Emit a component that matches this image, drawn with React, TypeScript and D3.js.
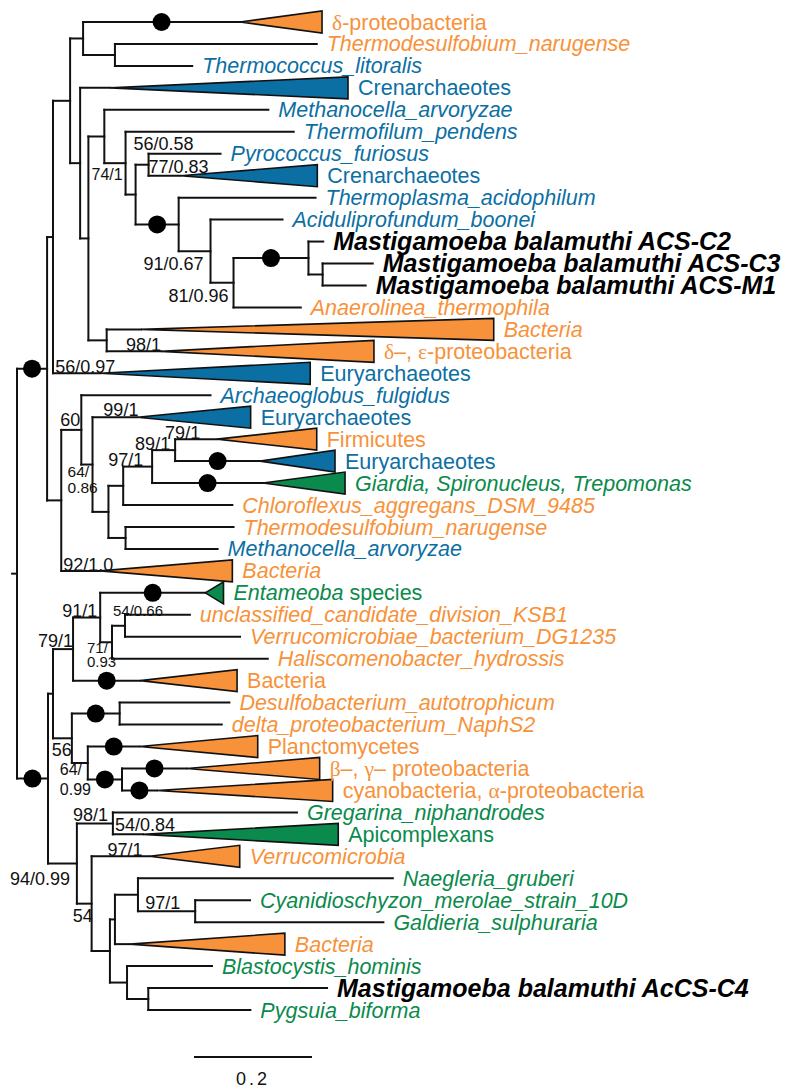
import React, { useMemo } from "react";
import * as d3 from "d3";

// [id, parentId, branchLength (subst./site), collapsed-clade depth (0 = single leaf)]
type Row = [string, string, number, number];
const TREE: Row[] = [
  ["root", "", 0, 0],
  ["A", "root", 0.051, 0],
  ["A1", "A", 0.010, 0],
  ["H", "A1", 0.029, 0],
  ["I", "H", 0.022, 0],
  ["dProteo", "I", 0.266, 0.139],
  ["K", "I", 0.054, 0],
  ["Tnar1", "K", 0.342, 0],
  ["Tlit", "K", 0.131, 0],
  ["J", "H", 0.017, 0],
  ["Cren1", "J", 0.051, 0.403],
  ["L", "J", 0.014, 0],
  ["N", "L", 0.027, 0],
  ["Marv1", "N", 0.278, 0],
  ["O", "N", 0.036, 0],
  ["Tpen", "O", 0.285, 0],
  ["P", "O", 0.017, 0],
  ["Q", "P", 0.022, 0],
  ["Pfur", "Q", 0.122, 0],
  ["Cren2", "Q", 0.054, 0.232],
  ["R", "P", 0.073, 0],
  ["Tacid", "R", 0.232, 0],
  ["S", "R", 0.054, 0],
  ["Aboo", "S", 0.122, 0],
  ["T", "S", 0.039, 0],
  ["U", "T", 0.127, 0],
  ["C2", "U", 0.025, 0],
  ["V", "U", 0.024, 0],
  ["C3", "V", 0.085, 0],
  ["M1", "V", 0.073, 0],
  ["Athe", "T", 0.114, 0],
  ["M", "L", 0.031, 0],
  ["Bac1", "M", 0.058, 0.598],
  ["deProteo", "M", 0.092, 0.361],
  ["Eury1", "A1", 0.080, 0.356],
  ["A2", "A", 0.024, 0],
  ["N60", "A2", 0.034, 0],
  ["Aful", "N60", 0.219, 0],
  ["B", "N60", 0.019, 0],
  ["Eury2", "B", 0.076, 0.192],
  ["C", "B", 0.027, 0],
  ["D", "C", 0.025, 0],
  ["F", "D", 0.049, 0],
  ["G", "F", 0.039, 0],
  ["Firm", "G", 0.071, 0.169],
  ["Eury3", "G", 0.144, 0.127],
  ["Giar", "F", 0.188, 0.139],
  ["Cagg", "D", 0.185, 0],
  ["E", "C", 0.029, 0],
  ["Tnar2", "E", 0.183, 0],
  ["Marv2", "E", 0.156, 0],
  ["Bac2", "A2", 0.066, 0.224],
  ["Z", "root", 0.0525, 0],
  ["Z1", "Z", 0.0085, 0],
  ["W", "Z1", 0.034, 0],
  ["W1", "W", 0.046, 0],
  ["Ent", "W1", 0.178, 0.031],
  ["W2", "W1", 0.020, 0],
  ["W3", "W2", 0.022, 0],
  ["KSB1", "W3", 0.110, 0],
  ["Verr1", "W3", 0.195, 0],
  ["Hhyd", "W2", 0.264, 0],
  ["Bac3", "W", 0.114, 0.164],
  ["X", "Z1", 0.032, 0],
  ["X1", "X", 0.081, 0],
  ["Daut", "X1", 0.186, 0],
  ["Dnap", "X1", 0.173, 0],
  ["X2", "X", 0.027, 0],
  ["Planc", "X2", 0.088, 0.200],
  ["X3", "X2", 0.058, 0],
  ["bgProteo", "X3", 0.110, 0.225],
  ["Cyano", "X3", 0.059, 0.298],
  ["Z2", "Z", 0.049, 0],
  ["Y1", "Z2", 0.061, 0],
  ["Gnip", "Y1", 0.312, 0],
  ["Apic", "Y1", 0.051, 0.331],
  ["Y2", "Z2", 0.025, 0],
  ["Verr2", "Y2", 0.098, 0.153],
  ["Y3", "Y2", 0.031, 0],
  ["Y4", "Y3", 0.0085, 0],
  ["Y6", "Y4", 0.039, 0],
  ["Ngru", "Y6", 0.432, 0],
  ["Y7", "Y6", 0.097, 0],
  ["Cmer", "Y7", 0.093, 0],
  ["Gsul", "Y7", 0.319, 0],
  ["Bac4", "Y4", 0.025, 0.263],
  ["Y5", "Y3", 0.029, 0],
  ["Bhom", "Y5", 0.144, 0],
  ["Y8", "Y5", 0.036, 0],
  ["C4", "Y8", 0.303, 0],
  ["Pbif", "Y8", 0.173, 0],
];

// [leafId, label, group, style]  ({g:..} greek serif, {i:..} italic)
const LEAF_LABELS: [string, string, string, string][] = [
  ["dProteo", "{g:δ}-proteobacteria", "bac", "n"],
  ["Tnar1", "Thermodesulfobium_narugense", "bac", "i"],
  ["Tlit", "Thermococcus_litoralis", "arc", "i"],
  ["Cren1", "Crenarchaeotes", "arc", "n"],
  ["Marv1", "Methanocella_arvoryzae", "arc", "i"],
  ["Tpen", "Thermofilum_pendens", "arc", "i"],
  ["Pfur", "Pyrococcus_furiosus", "arc", "i"],
  ["Cren2", "Crenarchaeotes", "arc", "n"],
  ["Tacid", "Thermoplasma_acidophilum", "arc", "i"],
  ["Aboo", "Aciduliprofundum_boonei", "arc", "i"],
  ["C2", "Mastigamoeba balamuthi ACS-C2", "mast", "b"],
  ["C3", "Mastigamoeba balamuthi ACS-C3", "mast", "b"],
  ["M1", "Mastigamoeba balamuthi ACS-M1", "mast", "b"],
  ["Athe", "Anaerolinea_thermophila", "bac", "i"],
  ["Bac1", "Bacteria", "bac", "i"],
  ["deProteo", "{g:δ}–, {g:ε}-proteobacteria", "bac", "n"],
  ["Eury1", "Euryarchaeotes", "arc", "n"],
  ["Aful", "Archaeoglobus_fulgidus", "arc", "i"],
  ["Eury2", "Euryarchaeotes", "arc", "n"],
  ["Firm", "Firmicutes", "bac", "n"],
  ["Eury3", "Euryarchaeotes", "arc", "n"],
  ["Giar", "Giardia, Spironucleus, Trepomonas", "euk", "i"],
  ["Cagg", "Chloroflexus_aggregans_DSM_9485", "bac", "i"],
  ["Tnar2", "Thermodesulfobium_narugense", "bac", "i"],
  ["Marv2", "Methanocella_arvoryzae", "arc", "i"],
  ["Bac2", "Bacteria", "bac", "i"],
  ["Ent", "{i:Entameoba} species", "euk", "n"],
  ["KSB1", "unclassified_candidate_division_KSB1", "bac", "i"],
  ["Verr1", "Verrucomicrobiae_bacterium_DG1235", "bac", "i"],
  ["Hhyd", "Haliscomenobacter_hydrossis", "bac", "i"],
  ["Bac3", "Bacteria", "bac", "n"],
  ["Daut", "Desulfobacterium_autotrophicum", "bac", "i"],
  ["Dnap", "delta_proteobacterium_NaphS2", "bac", "i"],
  ["Planc", "Planctomycetes", "bac", "n"],
  ["bgProteo", "{g:β}–, {g:γ}– proteobacteria", "bac", "n"],
  ["Cyano", "cyanobacteria, {g:α}-proteobacteria", "bac", "n"],
  ["Gnip", "Gregarina_niphandrodes", "euk", "i"],
  ["Apic", "Apicomplexans", "euk", "n"],
  ["Verr2", "Verrucomicrobia", "bac", "i"],
  ["Ngru", "Naegleria_gruberi", "euk", "i"],
  ["Cmer", "Cyanidioschyzon_merolae_strain_10D", "euk", "i"],
  ["Gsul", "Galdieria_sulphuraria", "euk", "i"],
  ["Bac4", "Bacteria", "bac", "i"],
  ["Bhom", "Blastocystis_hominis", "euk", "i"],
  ["C4", "Mastigamoeba balamuthi AcCS-C4", "mast", "b"],
  ["Pbif", "Pygsuia_biforma", "euk", "i"],
];

// nodes with maximal support (drawn as black dots on their branch)
const FULL_SUPPORT: string[] = [
  "A", "Z", "dProteo", "R", "U", "Eury3", "Giar", "Ent", "Bac3", "X1", "Planc", "X3", "bgProteo", "Cyano",
];

// [nodeId, bootstrap/posterior label]
const SUPPORT: [string, string][] = [
  ["O", "74/1"], ["Q", "56/0.58"], ["Cren2", "77/0.83"], ["S", "91/0.67"], ["T", "81/0.96"],
  ["deProteo", "98/1"], ["Eury1", "56/0.97"], ["N60", "60"], ["Eury2", "99/1"], ["B", "64/\n0.86"],
  ["D", "97/1"], ["F", "89/1"], ["G", "79/1"], ["Bac2", "92/1.0"], ["W1", "91/1"], ["W3", "54/0.66"],
  ["W2", "71/\n0.93"], ["W", "79/1"], ["X", "56"], ["X2", "64/\n0.99"], ["Y1", "98/1"],
  ["Apic", "54/0.84"], ["Verr2", "97/1"], ["Z2", "94/0.99"], ["Y2", "54"], ["Y7", "97/1"],
];

const SCALE_BAR_LENGTH = 0.2;
const SCALE_BAR_LABEL = "0.2";

// ---- layout (pixels) ----
const W = 800;
const H = 1089;
const FONT = "'Liberation Sans', Arial, Helvetica, sans-serif";
const COLORS: Record<string, string> = {
  bac: "#F7923A",
  arc: "#0C6FA3",
  euk: "#0A8A4C",
  mast: "#000000",
};
// label placement offsets relative to the node: [dx, dyCenter, fontSize, lineHeight]
const LABEL_POS: Record<string, [number, number, number, number]> = {
  O: [-34, 11, 16, 16], Q: [-15, -21, 18, 18], Cren2: [-32, -9, 18, 18], S: [-67, 13, 18, 18],
  T: [-65, 13, 18, 18], deProteo: [-35, -7, 18, 18], Eury1: [-45, -7, 18, 18], N60: [-21, -10, 18, 18],
  Eury2: [-34, -8, 18, 18], B: [-25, 7, 15.5, 16], D: [-15, -26, 18, 18], F: [-17, -23, 18, 18],
  G: [-10, -17, 18, 18], Bac2: [-37, -6, 18, 18], W1: [-38, -7, 18, 18], W3: [-12, -15, 15, 15],
  W2: [-25, 6, 15, 14], W: [-35, -8, 18, 18], X: [-20, 11, 18, 18], X2: [-28, 6, 16, 20],
  Y1: [-40, -9, 18, 18], Apic: [-28, -10, 18, 18], Verr2: [-42, -7, 18, 18], Z2: [-67, 15, 18, 18],
  Y2: [-19, 12, 18, 18], Y7: [-50, -9, 18, 18],
};
const SCALE_BAR_START = 0.3;
const SCALE_BAR_Y = 1057;

function segments(s: string) {
  const out: { t: string; k: string }[] = [];
  const re = /\{(g|i):([^}]*)\}/g;
  let last = 0;
  let m: RegExpExecArray | null;
  while ((m = re.exec(s))) {
    if (m.index > last) out.push({ t: s.slice(last, m.index), k: "" });
    out.push({ t: m[2], k: m[1] });
    last = re.lastIndex;
  }
  if (last < s.length) out.push({ t: s.slice(last), k: "" });
  return out;
}

export default function App() {
  const layout = useMemo(() => {
    const root: any = d3
      .stratify<Row>()
      .id((d) => d[0])
      .parentId((d) => (d[1] === "" ? null : d[1]))(TREE);
    root.eachBefore((n: any) => {
      n.dist = n.parent ? n.parent.dist + n.data[2] : 0;
    });
    const leaves = root.leaves();
    const y = d3.scaleLinear().domain([0, leaves.length - 1]).range([22, 1010]);
    leaves.forEach((l: any, i: number) => (l.py = y(i)));
    root.eachAfter((n: any) => {
      if (n.children) n.py = (n.children[0].py + n.children[n.children.length - 1].py) / 2;
    });
    const x = d3.scaleLinear().domain([0, 1]).range([17, 607]);
    const byId = new Map<string, any>();
    root.each((n: any) => byId.set(n.id, n));
    return { root, x, byId, nodes: root.descendants(), leaves };
  }, []);

  const { root, x, byId, nodes, leaves } = layout;
  const stroke = "#111";

  return (
    <svg width={W} height={H} style={{ position: "absolute", left: 0, top: 0, background: "#fff" }}>
      <rect width={W} height={H} fill="#fff" />
      {/* root stub */}
      <line x1={x(-0.01)} x2={x(0)} y1={root.py} y2={root.py} stroke={stroke} strokeWidth={2} />
      {/* horizontal branches */}
      {nodes
        .filter((n: any) => n.parent)
        .map((n: any) => (
          <line
            key={"h" + n.id}
            x1={x(n.parent.dist)}
            x2={x(n.dist)}
            y1={n.py}
            y2={n.py}
            stroke={stroke}
            strokeWidth={2}
            strokeLinecap="square"
          />
        ))}
      {/* vertical connectors */}
      {nodes
        .filter((n: any) => n.children)
        .map((n: any) => (
          <line
            key={"v" + n.id}
            x1={x(n.dist)}
            x2={x(n.dist)}
            y1={n.children[0].py}
            y2={n.children[n.children.length - 1].py}
            stroke={stroke}
            strokeWidth={2}
            strokeLinecap="square"
          />
        ))}
      {/* collapsed clades */}
      {leaves
        .filter((n: any) => n.data[3] > 0)
        .map((n: any) => {
          const ax = x(n.dist);
          const bx = x(n.dist + n.data[3]);
          const lab = LEAF_LABELS.find((l) => l[0] === n.id)!;
          return (
            <polygon
              key={"t" + n.id}
              points={`${ax},${n.py} ${bx},${n.py - 11} ${bx},${n.py + 11}`}
              fill={COLORS[lab[2]]}
              stroke="#111"
              strokeWidth={1.6}
              strokeLinejoin="miter"
            />
          );
        })}
      {/* full-support dots */}
      {FULL_SUPPORT.map((id) => {
        const n = byId.get(id);
        return (
          <circle key={"c" + id} cx={(x(n.parent.dist) + x(n.dist)) / 2} cy={n.py} r={9} fill="#000" />
        );
      })}
      {/* leaf labels */}
      {LEAF_LABELS.map(([id, text, group, style]) => {
        const n = byId.get(id);
        const tx = x(n.dist + n.data[3]) + 10;
        const isMast = style === "b";
        return (
          <text
            key={"l" + id}
            x={tx}
            y={n.py}
            dy="0.35em"
            fill={COLORS[group]}
            fontFamily={FONT}
            fontSize={isMast ? 25 : 21.5}
            fontWeight={isMast ? "bold" : "normal"}
            fontStyle={style === "n" ? "normal" : "italic"}
          >
            {segments(text).map((s, i) =>
              s.k === "g" ? (
                <tspan key={i} fontFamily="'Liberation Serif', 'Times New Roman', serif" fontStyle="normal">
                  {s.t}
                </tspan>
              ) : s.k === "i" ? (
                <tspan key={i} fontStyle="italic">
                  {s.t}
                </tspan>
              ) : (
                <tspan key={i}>{s.t}</tspan>
              )
            )}
          </text>
        );
      })}
      {/* support values */}
      {SUPPORT.map(([id, text]) => {
        const n = byId.get(id);
        const [dx, dy, fs, lh] = LABEL_POS[id];
        const lines = text.split("\n");
        return (
          <text key={"s" + id} fontFamily={FONT} fontSize={fs} fill="#111">
            {lines.map((t, i) => (
              <tspan key={i} x={x(n.dist) + dx} y={n.py + dy + i * lh} dy="0.35em">
                {t}
              </tspan>
            ))}
          </text>
        );
      })}
      {/* scale bar */}
      <line
        x1={x(SCALE_BAR_START)}
        x2={x(SCALE_BAR_START + SCALE_BAR_LENGTH)}
        y1={SCALE_BAR_Y}
        y2={SCALE_BAR_Y}
        stroke={stroke}
        strokeWidth={2}
      />
      <text
        x={x(SCALE_BAR_START + SCALE_BAR_LENGTH / 2)}
        y={SCALE_BAR_Y + 22}
        dy="0.35em"
        textAnchor="middle"
        fontFamily={FONT}
        fontSize={18}
        letterSpacing={3}
        fill="#111"
      >
        {SCALE_BAR_LABEL}
      </text>
    </svg>
  );
}
